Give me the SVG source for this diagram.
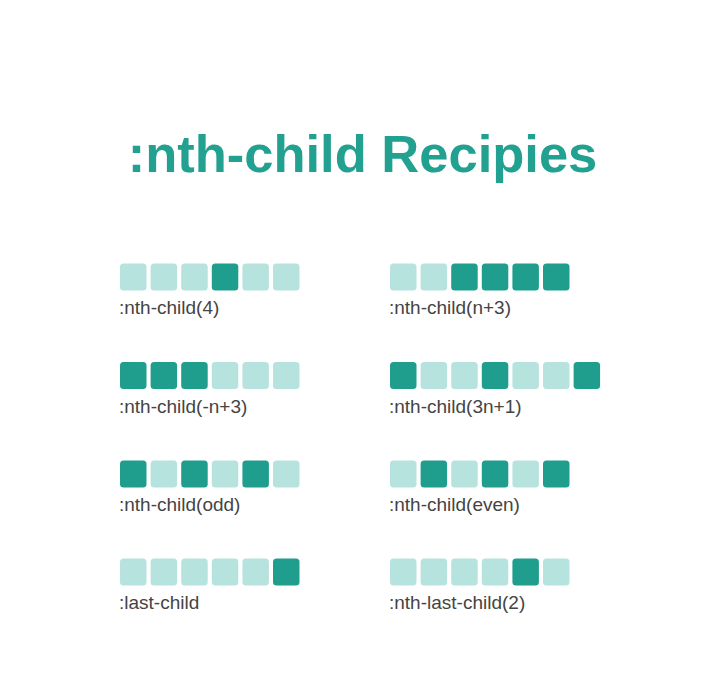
<svg xmlns="http://www.w3.org/2000/svg" width="720" height="687" viewBox="0 0 720 687">
<style>
.title{font-family:"Liberation Sans",Arial,sans-serif;font-weight:bold;font-size:52.5px;fill:#22a090;}
.lbl{font-family:"Liberation Sans",Arial,sans-serif;font-size:19px;fill:#444444;}
.d{fill:#1f9e8e;}
.l{fill:#b7e3df;}
rect.d,rect.l{width:26.5px;height:27px;}
</style>
<rect x="0" y="0" width="720" height="687" fill="#ffffff"/>
<g id="title"><text class="title" x="362.5" y="172" text-anchor="middle">:nth-child Recipies</text></g>

<g id="nth-child-4">
<rect class="l" x="120" y="263.5" rx="3.5"/><rect class="l" x="150.6" y="263.5" rx="3.5"/><rect class="l" x="181.2" y="263.5" rx="3.5"/><rect class="d" x="211.8" y="263.5" rx="3.5"/><rect class="l" x="242.4" y="263.5" rx="3.5"/><rect class="l" x="273" y="263.5" rx="3.5"/>
<text class="lbl" x="119" y="314">:nth-child(4)</text>
</g>

<g id="nth-child-n-plus-3">
<rect class="l" x="390" y="263.5" rx="3.5"/><rect class="l" x="420.6" y="263.5" rx="3.5"/><rect class="d" x="451.2" y="263.5" rx="3.5"/><rect class="d" x="481.8" y="263.5" rx="3.5"/><rect class="d" x="512.4" y="263.5" rx="3.5"/><rect class="d" x="543" y="263.5" rx="3.5"/>
<text class="lbl" x="389" y="314">:nth-child(n+3)</text>
</g>

<g id="nth-child-minus-n-plus-3">
<rect class="d" x="120" y="362" rx="3.5"/><rect class="d" x="150.6" y="362" rx="3.5"/><rect class="d" x="181.2" y="362" rx="3.5"/><rect class="l" x="211.8" y="362" rx="3.5"/><rect class="l" x="242.4" y="362" rx="3.5"/><rect class="l" x="273" y="362" rx="3.5"/>
<text class="lbl" x="119" y="412.5">:nth-child(-n+3)</text>
</g>

<g id="nth-child-3n-plus-1">
<rect class="d" x="390" y="362" rx="3.5"/><rect class="l" x="420.6" y="362" rx="3.5"/><rect class="l" x="451.2" y="362" rx="3.5"/><rect class="d" x="481.8" y="362" rx="3.5"/><rect class="l" x="512.4" y="362" rx="3.5"/><rect class="l" x="543" y="362" rx="3.5"/><rect class="d" x="573.6" y="362" rx="3.5"/>
<text class="lbl" x="389" y="412.5">:nth-child(3n+1)</text>
</g>

<g id="nth-child-odd">
<rect class="d" x="120" y="460.5" rx="3.5"/><rect class="l" x="150.6" y="460.5" rx="3.5"/><rect class="d" x="181.2" y="460.5" rx="3.5"/><rect class="l" x="211.8" y="460.5" rx="3.5"/><rect class="d" x="242.4" y="460.5" rx="3.5"/><rect class="l" x="273" y="460.5" rx="3.5"/>
<text class="lbl" x="119" y="511">:nth-child(odd)</text>
</g>

<g id="nth-child-even">
<rect class="l" x="390" y="460.5" rx="3.5"/><rect class="d" x="420.6" y="460.5" rx="3.5"/><rect class="l" x="451.2" y="460.5" rx="3.5"/><rect class="d" x="481.8" y="460.5" rx="3.5"/><rect class="l" x="512.4" y="460.5" rx="3.5"/><rect class="d" x="543" y="460.5" rx="3.5"/>
<text class="lbl" x="389" y="511">:nth-child(even)</text>
</g>

<g id="last-child">
<rect class="l" x="120" y="558.5" rx="3.5"/><rect class="l" x="150.6" y="558.5" rx="3.5"/><rect class="l" x="181.2" y="558.5" rx="3.5"/><rect class="l" x="211.8" y="558.5" rx="3.5"/><rect class="l" x="242.4" y="558.5" rx="3.5"/><rect class="d" x="273" y="558.5" rx="3.5"/>
<text class="lbl" x="119" y="609">:last-child</text>
</g>

<g id="nth-last-child-2">
<rect class="l" x="390" y="558.5" rx="3.5"/><rect class="l" x="420.6" y="558.5" rx="3.5"/><rect class="l" x="451.2" y="558.5" rx="3.5"/><rect class="l" x="481.8" y="558.5" rx="3.5"/><rect class="d" x="512.4" y="558.5" rx="3.5"/><rect class="l" x="543" y="558.5" rx="3.5"/>
<text class="lbl" x="389" y="609">:nth-last-child(2)</text>
</g>
</svg>
